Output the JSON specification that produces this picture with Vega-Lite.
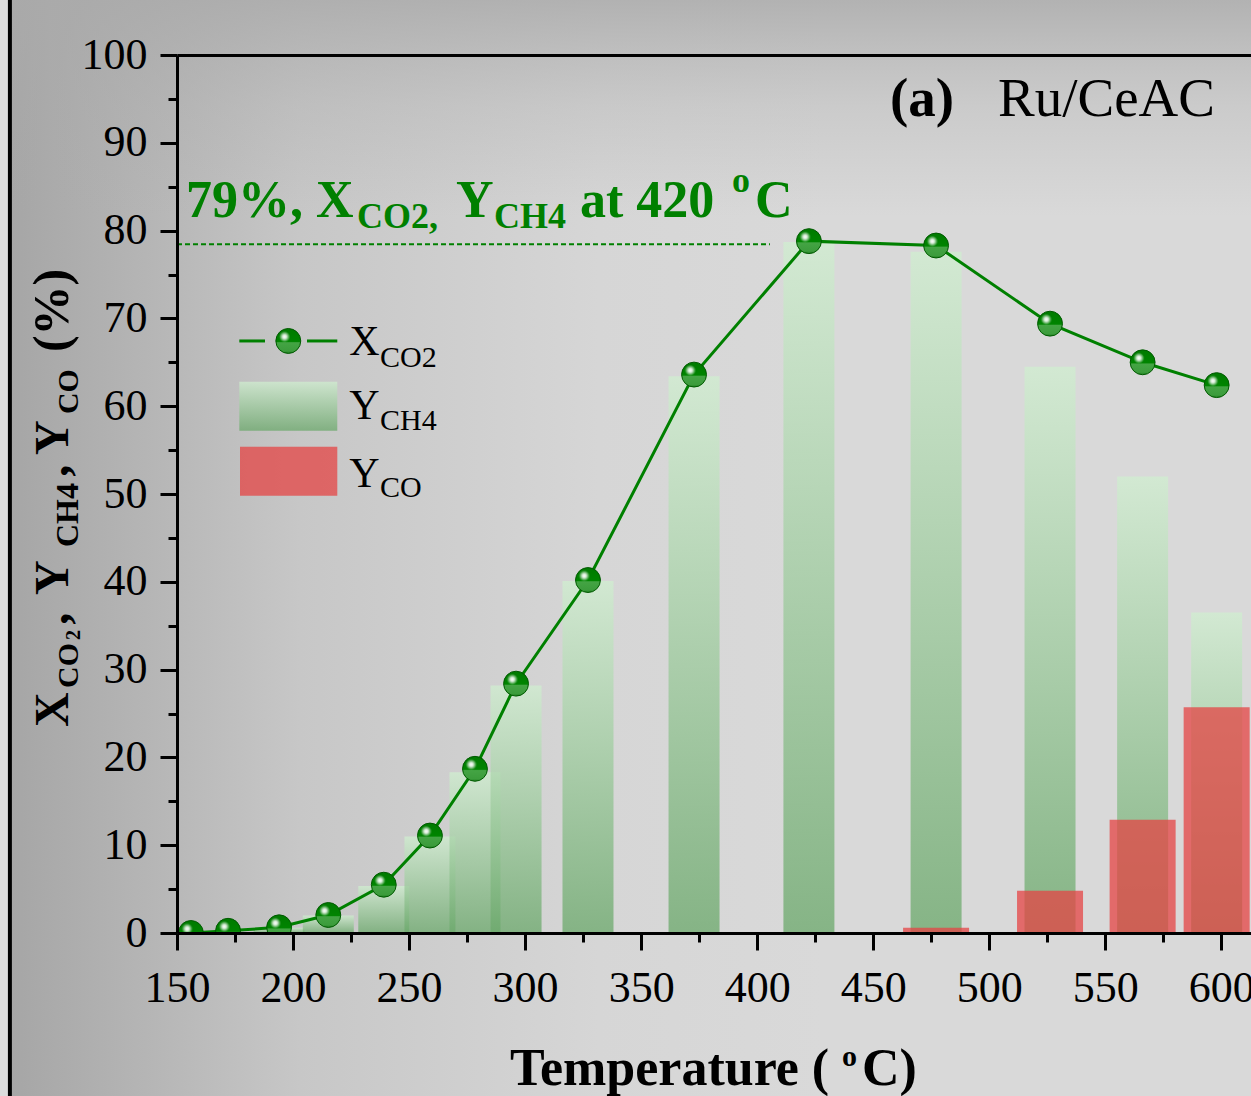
{
"$schema":"https://vega.github.io/schema/vega-lite/v6.json",
"autosize":{"type":"none"},
"padding":{"left":177,"top":55,"right":0,"bottom":163},
"width":1074,"height":878,
"background":"#dcdcdc",
"config":{"scale":{"continuousPadding":0},"view":{"stroke":null},"axis":{"domainColor":"black","tickColor":"black","labelColor":"black","labelFont":"Liberation Serif","labelFontSize":44,"domainWidth":3,"tickWidth":3,"grid":false,"title":null,"labelFlush":false,"labelOverlap":false},"text":{"font":"Liberation Serif","align":"left","baseline":"alphabetic"}},
"datasets":{"main":[
{"T":156.0,"X":0.0,"Ych4":0.0,"Yco":null},
{"T":172.0,"X":0.25,"Ych4":0.0,"Yco":null},
{"T":194.0,"X":0.65,"Ych4":0.6,"Yco":null},
{"T":215.2,"X":2.05,"Ych4":2.0,"Yco":null},
{"T":239.1,"X":5.5,"Ych4":5.35,"Yco":null},
{"T":259.0,"X":11.1,"Ych4":11.0,"Yco":null},
{"T":278.4,"X":18.7,"Ych4":18.3,"Yco":null},
{"T":296.1,"X":28.4,"Ych4":28.2,"Yco":null},
{"T":327.1,"X":40.2,"Ych4":40.1,"Yco":null},
{"T":372.8,"X":63.6,"Ych4":63.4,"Yco":null},
{"T":422.3,"X":78.8,"Ych4":78.7,"Yco":null},
{"T":477.1,"X":78.3,"Ych4":77.6,"Yco":0.6},
{"T":526.2,"X":69.4,"Ych4":64.5,"Yco":4.8},
{"T":566.1,"X":65.0,"Ych4":52.0,"Yco":12.9},
{"T":598.0,"X":62.4,"Ych4":36.5,"Yco":25.7}
]},
"resolve":{"axis":{"x":"independent","y":"independent"}},
"layer":[
{"data":{"values":[{}]},"mark":{"type":"rect","clip":false,"fill":{"gradient":"linear","x1":0,"y1":0,"x2":1,"y2":0,"stops":[{"offset":0,"color":"#a6a6a6"},{"offset":0.135,"color":"#b9b9b9"},{"offset":0.23,"color":"#c7c7c7"},{"offset":0.47,"color":"#d6d6d6"},{"offset":0.65,"color":"#d9d9d9"},{"offset":1,"color":"#d9d9d9"}]}},
 "encoding":{"x":{"datum":78.8,"type":"quantitative","scale":{"domain":[150,612.8],"nice":false,"zero":false,"padding":0},"axis":null},"x2":{"datum":617},"y":{"datum":-19,"type":"quantitative","scale":{"domain":[0,100],"nice":false,"zero":false},"axis":null},"y2":{"datum":106.8}}},
{"data":{"values":[{}]},"mark":{"type":"rect","clip":false,"fill":{"gradient":"linear","x1":0,"y1":0,"x2":0,"y2":1,"stops":[{"offset":0,"color":"rgba(170,170,170,0.85)"},{"offset":0.05,"color":"rgba(170,170,170,0.55)"},{"offset":0.1,"color":"rgba(170,170,170,0.3)"},{"offset":0.2,"color":"rgba(170,170,170,0)"},{"offset":1,"color":"rgba(170,170,170,0)"}]}},
 "encoding":{"x":{"datum":78.8,"type":"quantitative","scale":{"domain":[150,612.8],"nice":false,"zero":false,"padding":0},"axis":null},"x2":{"datum":617},"y":{"datum":-19,"type":"quantitative","scale":{"domain":[0,100],"nice":false,"zero":false},"axis":null},"y2":{"datum":106.8}}},
{"data":{"values":[{}]},"mark":{"type":"rule","clip":false,"color":"black","strokeWidth":4},
 "encoding":{"x":{"datum":78.0,"type":"quantitative","scale":{"domain":[150,612.8],"nice":false,"zero":false,"padding":0},"axis":null},"y":{"datum":-19,"type":"quantitative","scale":{"domain":[0,100],"nice":false,"zero":false},"axis":null},"y2":{"datum":107}}},
{"data":{"name":"main"},"mark":{"type":"bar","width":51,"clip":true,"fillOpacity":0.75,"fill":{"gradient":"linear","x1":0,"y1":0,"x2":0,"y2":1,"stops":[{"offset":0,"color":"#d0eed0"},{"offset":1,"color":"#6aa86a"}]}},
 "encoding":{"x":{"field":"T","type":"quantitative","scale":{"domain":[150,612.8],"nice":false,"zero":false,"padding":0},"axis":{"orient":"bottom","zindex":2,"values":[150,200,250,300,350,400,450,500,550,600],"tickSize":17,"labelPadding":16,"format":"d"}},
 "y":{"field":"Ych4","type":"quantitative","scale":{"domain":[0,100],"nice":false,"zero":false},"axis":{"orient":"left","zindex":2,"values":[0,10,20,30,40,50,60,70,80,90,100],"tickSize":17,"labelPadding":13,"format":"d"}}}},
{"data":{"name":"main"},"transform":[{"filter":"datum.Yco > 0"}],"mark":{"type":"bar","width":66,"clip":true,"fill":"#e44444","fillOpacity":0.75},
 "encoding":{"x":{"field":"T","type":"quantitative","scale":{"domain":[150,612.8],"nice":false,"zero":false,"padding":0},"axis":{"orient":"bottom","zindex":2,"values":[175,225,275,325,375,425,475,525,575],"tickSize":9,"labels":false,"domain":false}},
 "y":{"field":"Yco","type":"quantitative","scale":{"domain":[0,100],"nice":false,"zero":false},"axis":{"orient":"left","zindex":2,"values":[5,15,25,35,45,55,65,75,85,95],"tickSize":9,"labels":false,"domain":false}}}},
{"data":{"values":[{}]},"mark":{"type":"rule","color":"#008000","strokeWidth":2,"strokeDash":[5,3]},
 "encoding":{"x":{"datum":150,"type":"quantitative","scale":{"domain":[150,612.8],"nice":false,"zero":false,"padding":0},"axis":null},"x2":{"datum":405.5},"y":{"datum":78.45,"type":"quantitative","scale":{"domain":[0,100],"nice":false,"zero":false},"axis":null}}},
{"data":{"name":"main"},"mark":{"type":"line","color":"#008000","strokeWidth":3,"clip":true},
 "encoding":{"x":{"field":"T","type":"quantitative","scale":{"domain":[150,612.8],"nice":false,"zero":false,"padding":0},"axis":{"orient":"top","zindex":2,"ticks":false,"labels":false,"domain":true}},
 "y":{"field":"X","type":"quantitative","scale":{"domain":[0,100],"nice":false,"zero":false},"axis":null}}},
{"data":{"name":"main"},"mark":{"type":"circle","size":620,"clip":true,"opacity":1,"stroke":"#005a00","strokeWidth":1,"fill":{"gradient":"linear","x1":0,"y1":0,"x2":0,"y2":1,"stops":[{"offset":0,"color":"#007a00"},{"offset":0.52,"color":"#008400"},{"offset":0.57,"color":"#44a444"},{"offset":0.9,"color":"#3c9c3c"},{"offset":1,"color":"#1f7f1f"}]}},
 "encoding":{"x":{"field":"T","type":"quantitative","scale":{"domain":[150,612.8],"nice":false,"zero":false,"padding":0},"axis":null},"y":{"field":"X","type":"quantitative","scale":{"domain":[0,100],"nice":false,"zero":false},"axis":null}}},
{"data":{"name":"main"},"mark":{"type":"circle","size":620,"clip":true,"opacity":1,"fill":{"gradient":"radial","x1":0.35,"y1":0.33,"r1":0,"x2":0.35,"y2":0.33,"r2":0.22,"stops":[{"offset":0,"color":"rgba(255,255,255,1)"},{"offset":0.35,"color":"rgba(255,255,255,0.85)"},{"offset":1,"color":"rgba(255,255,255,0)"}]}},
 "encoding":{"x":{"field":"T","type":"quantitative","scale":{"domain":[150,612.8],"nice":false,"zero":false,"padding":0},"axis":null},"y":{"field":"X","type":"quantitative","scale":{"domain":[0,100],"nice":false,"zero":false},"axis":null}}},
{"data":{"values":[{}]},"mark":{"type":"rule","color":"#008000","strokeWidth":3},
 "encoding":{"x":{"datum":176.85,"type":"quantitative","scale":{"domain":[150,612.8],"nice":false,"zero":false,"padding":0},"axis":null},"x2":{"datum":187.92},"y":{"datum":67.43,"type":"quantitative","scale":{"domain":[0,100],"nice":false,"zero":false},"axis":null}}},
{"data":{"values":[{}]},"mark":{"type":"rule","color":"#008000","strokeWidth":3},
 "encoding":{"x":{"datum":206.02,"type":"quantitative","scale":{"domain":[150,612.8],"nice":false,"zero":false,"padding":0},"axis":null},"x2":{"datum":219.07},"y":{"datum":67.43,"type":"quantitative","scale":{"domain":[0,100],"nice":false,"zero":false},"axis":null}}},
{"data":{"values":[{}]},"mark":{"type":"circle","size":620,"opacity":1,"stroke":"#005a00","strokeWidth":1,"fill":{"gradient":"linear","x1":0,"y1":0,"x2":0,"y2":1,"stops":[{"offset":0,"color":"#007a00"},{"offset":0.52,"color":"#008400"},{"offset":0.57,"color":"#44a444"},{"offset":0.9,"color":"#3c9c3c"},{"offset":1,"color":"#1f7f1f"}]}},
 "encoding":{"x":{"datum":197.96,"type":"quantitative","scale":{"domain":[150,612.8],"nice":false,"zero":false,"padding":0},"axis":null},"y":{"datum":67.43,"type":"quantitative","scale":{"domain":[0,100],"nice":false,"zero":false},"axis":null}}},
{"data":{"values":[{}]},"mark":{"type":"circle","size":620,"opacity":1,"fill":{"gradient":"radial","x1":0.35,"y1":0.33,"r1":0,"x2":0.35,"y2":0.33,"r2":0.22,"stops":[{"offset":0,"color":"rgba(255,255,255,1)"},{"offset":0.35,"color":"rgba(255,255,255,0.85)"},{"offset":1,"color":"rgba(255,255,255,0)"}]}},
 "encoding":{"x":{"datum":197.96,"type":"quantitative","scale":{"domain":[150,612.8],"nice":false,"zero":false,"padding":0},"axis":null},"y":{"datum":67.43,"type":"quantitative","scale":{"domain":[0,100],"nice":false,"zero":false},"axis":null}}},
{"data":{"values":[{}]},"mark":{"type":"rect","fillOpacity":0.75,"fill":{"gradient":"linear","x1":0,"y1":0,"x2":0,"y2":1,"stops":[{"offset":0,"color":"#d0eed0"},{"offset":1,"color":"#6aa86a"}]}},
 "encoding":{"x":{"datum":176.85,"type":"quantitative","scale":{"domain":[150,612.8],"nice":false,"zero":false,"padding":0},"axis":null},"x2":{"datum":219.07},"y":{"datum":57.21,"type":"quantitative","scale":{"domain":[0,100],"nice":false,"zero":false},"axis":null},"y2":{"datum":62.79}}},
{"data":{"values":[{}]},"mark":{"type":"rect","fill":"#e44444","fillOpacity":0.75},
 "encoding":{"x":{"datum":177.15,"type":"quantitative","scale":{"domain":[150,612.8],"nice":false,"zero":false,"padding":0},"axis":null},"x2":{"datum":219.07},"y":{"datum":49.81,"type":"quantitative","scale":{"domain":[0,100],"nice":false,"zero":false},"axis":null},"y2":{"datum":55.39}}},
{"data":{"values":[{}]},"mark":{"type":"text","text":"X","fontSize":42,"color":"black"},"encoding":{"x":{"datum":224.25,"type":"quantitative","scale":{"domain":[150,612.8],"nice":false,"zero":false,"padding":0},"axis":null},"y":{"datum":65.83,"type":"quantitative","scale":{"domain":[0,100],"nice":false,"zero":false},"axis":null}}},
{"data":{"values":[{}]},"mark":{"type":"text","text":"CO2","fontSize":30,"color":"black"},"encoding":{"x":{"datum":237.47,"type":"quantitative","scale":{"domain":[150,612.8],"nice":false,"zero":false,"padding":0},"axis":null},"y":{"datum":64.5,"type":"quantitative","scale":{"domain":[0,100],"nice":false,"zero":false},"axis":null}}},
{"data":{"values":[{}]},"mark":{"type":"text","text":"Y","fontSize":42,"color":"black"},"encoding":{"x":{"datum":224.25,"type":"quantitative","scale":{"domain":[150,612.8],"nice":false,"zero":false,"padding":0},"axis":null},"y":{"datum":58.5,"type":"quantitative","scale":{"domain":[0,100],"nice":false,"zero":false},"axis":null}}},
{"data":{"values":[{}]},"mark":{"type":"text","text":"CH4","fontSize":30,"color":"black"},"encoding":{"x":{"datum":237.47,"type":"quantitative","scale":{"domain":[150,612.8],"nice":false,"zero":false,"padding":0},"axis":null},"y":{"datum":57.29,"type":"quantitative","scale":{"domain":[0,100],"nice":false,"zero":false},"axis":null}}},
{"data":{"values":[{}]},"mark":{"type":"text","text":"Y","fontSize":42,"color":"black"},"encoding":{"x":{"datum":224.25,"type":"quantitative","scale":{"domain":[150,612.8],"nice":false,"zero":false,"padding":0},"axis":null},"y":{"datum":50.8,"type":"quantitative","scale":{"domain":[0,100],"nice":false,"zero":false},"axis":null}}},
{"data":{"values":[{}]},"mark":{"type":"text","text":"CO","fontSize":30,"color":"black"},"encoding":{"x":{"datum":237.47,"type":"quantitative","scale":{"domain":[150,612.8],"nice":false,"zero":false,"padding":0},"axis":null},"y":{"datum":49.69,"type":"quantitative","scale":{"domain":[0,100],"nice":false,"zero":false},"axis":null}}},
{"data":{"values":[{}]},"mark":{"type":"text","text":"79%, X","fontSize":52,"fontWeight":"bold","color":"#008000"},"encoding":{"x":{"datum":153.88,"type":"quantitative","scale":{"domain":[150,612.8],"nice":false,"zero":false,"padding":0},"axis":null},"y":{"datum":81.6,"type":"quantitative","scale":{"domain":[0,100],"nice":false,"zero":false},"axis":null}}},
{"data":{"values":[{}]},"mark":{"type":"text","text":"CO2,","fontSize":36,"fontWeight":"bold","color":"#008000"},"encoding":{"x":{"datum":227.56,"type":"quantitative","scale":{"domain":[150,612.8],"nice":false,"zero":false,"padding":0},"axis":null},"y":{"datum":80.25,"type":"quantitative","scale":{"domain":[0,100],"nice":false,"zero":false},"axis":null}}},
{"data":{"values":[{}]},"mark":{"type":"text","text":"Y","fontSize":52,"fontWeight":"bold","color":"#008000"},"encoding":{"x":{"datum":270.22,"type":"quantitative","scale":{"domain":[150,612.8],"nice":false,"zero":false,"padding":0},"axis":null},"y":{"datum":81.6,"type":"quantitative","scale":{"domain":[0,100],"nice":false,"zero":false},"axis":null}}},
{"data":{"values":[{}]},"mark":{"type":"text","text":"CH4","fontSize":36,"fontWeight":"bold","color":"#008000"},"encoding":{"x":{"datum":286.6,"type":"quantitative","scale":{"domain":[150,612.8],"nice":false,"zero":false,"padding":0},"axis":null},"y":{"datum":80.25,"type":"quantitative","scale":{"domain":[0,100],"nice":false,"zero":false},"axis":null}}},
{"data":{"values":[{}]},"mark":{"type":"text","text":"at 420","fontSize":52,"fontWeight":"bold","color":"#008000"},"encoding":{"x":{"datum":323.66,"type":"quantitative","scale":{"domain":[150,612.8],"nice":false,"zero":false,"padding":0},"axis":null},"y":{"datum":81.6,"type":"quantitative","scale":{"domain":[0,100],"nice":false,"zero":false},"axis":null}}},
{"data":{"values":[{}]},"mark":{"type":"text","text":"o","fontSize":36,"fontWeight":"bold","color":"#008000"},"encoding":{"x":{"datum":389.2,"type":"quantitative","scale":{"domain":[150,612.8],"nice":false,"zero":false,"padding":0},"axis":null},"y":{"datum":84.4,"type":"quantitative","scale":{"domain":[0,100],"nice":false,"zero":false},"axis":null}}},
{"data":{"values":[{}]},"mark":{"type":"text","text":"C","fontSize":52,"fontWeight":"bold","color":"#008000"},"encoding":{"x":{"datum":399.1,"type":"quantitative","scale":{"domain":[150,612.8],"nice":false,"zero":false,"padding":0},"axis":null},"y":{"datum":81.6,"type":"quantitative","scale":{"domain":[0,100],"nice":false,"zero":false},"axis":null}}},
{"data":{"values":[{}]},"mark":{"type":"text","text":"(a)","fontSize":55,"fontWeight":"bold","color":"black"},"encoding":{"x":{"datum":457.2,"type":"quantitative","scale":{"domain":[150,612.8],"nice":false,"zero":false,"padding":0},"axis":null},"y":{"datum":93.0,"type":"quantitative","scale":{"domain":[0,100],"nice":false,"zero":false},"axis":null}}},
{"data":{"values":[{}]},"mark":{"type":"text","text":"Ru/CeAC","fontSize":55,"color":"black"},"encoding":{"x":{"datum":503.8,"type":"quantitative","scale":{"domain":[150,612.8],"nice":false,"zero":false,"padding":0},"axis":null},"y":{"datum":93.0,"type":"quantitative","scale":{"domain":[0,100],"nice":false,"zero":false},"axis":null}}},
{"data":{"values":[{}]},"mark":{"type":"text","text":"Temperature (","fontSize":52,"fontWeight":"bold","color":"black","clip":false},"encoding":{"x":{"datum":293.5,"type":"quantitative","scale":{"domain":[150,612.8],"nice":false,"zero":false,"padding":0},"axis":null},"y":{"datum":-17.3,"type":"quantitative","scale":{"domain":[0,100],"nice":false,"zero":false},"axis":null}}},
{"data":{"values":[{}]},"mark":{"type":"text","text":"o","fontSize":30,"fontWeight":"bold","color":"black","clip":false},"encoding":{"x":{"datum":436.6,"type":"quantitative","scale":{"domain":[150,612.8],"nice":false,"zero":false,"padding":0},"axis":null},"y":{"datum":-15.2,"type":"quantitative","scale":{"domain":[0,100],"nice":false,"zero":false},"axis":null}}},
{"data":{"values":[{}]},"mark":{"type":"text","text":"C)","fontSize":52,"fontWeight":"bold","color":"black","clip":false},"encoding":{"x":{"datum":445.2,"type":"quantitative","scale":{"domain":[150,612.8],"nice":false,"zero":false,"padding":0},"axis":null},"y":{"datum":-17.3,"type":"quantitative","scale":{"domain":[0,100],"nice":false,"zero":false},"axis":null}}},
{"data":{"values":[{}]},"mark":{"type":"text","text":"X","angle":270,"fontSize":48,"fontWeight":"bold","color":"black"},"encoding":{"x":{"datum":103.03,"type":"quantitative","scale":{"domain":[150,612.8],"nice":false,"zero":false,"padding":0},"axis":null},"y":{"datum":23.46,"type":"quantitative","scale":{"domain":[0,100],"nice":false,"zero":false},"axis":null}}},
{"data":{"values":[{}]},"mark":{"type":"text","text":"CO","angle":270,"fontSize":30,"fontWeight":"bold","color":"black"},"encoding":{"x":{"datum":107.3,"type":"quantitative","scale":{"domain":[150,612.8],"nice":false,"zero":false,"padding":0},"axis":null},"y":{"datum":27.9,"type":"quantitative","scale":{"domain":[0,100],"nice":false,"zero":false},"axis":null}}},
{"data":{"values":[{}]},"mark":{"type":"text","text":"2","angle":270,"fontSize":20,"fontWeight":"bold","color":"black"},"encoding":{"x":{"datum":108.1,"type":"quantitative","scale":{"domain":[150,612.8],"nice":false,"zero":false,"padding":0},"axis":null},"y":{"datum":33.37,"type":"quantitative","scale":{"domain":[0,100],"nice":false,"zero":false},"axis":null}}},
{"data":{"values":[{}]},"mark":{"type":"text","text":",","angle":270,"fontSize":48,"fontWeight":"bold","color":"black"},"encoding":{"x":{"datum":103.03,"type":"quantitative","scale":{"domain":[150,612.8],"nice":false,"zero":false,"padding":0},"axis":null},"y":{"datum":35.1,"type":"quantitative","scale":{"domain":[0,100],"nice":false,"zero":false},"axis":null}}},
{"data":{"values":[{}]},"mark":{"type":"text","text":"Y","angle":270,"fontSize":48,"fontWeight":"bold","color":"black"},"encoding":{"x":{"datum":103.03,"type":"quantitative","scale":{"domain":[150,612.8],"nice":false,"zero":false,"padding":0},"axis":null},"y":{"datum":38.5,"type":"quantitative","scale":{"domain":[0,100],"nice":false,"zero":false},"axis":null}}},
{"data":{"values":[{}]},"mark":{"type":"text","text":"CH4","angle":270,"fontSize":32,"fontWeight":"bold","color":"black"},"encoding":{"x":{"datum":107.3,"type":"quantitative","scale":{"domain":[150,612.8],"nice":false,"zero":false,"padding":0},"axis":null},"y":{"datum":43.96,"type":"quantitative","scale":{"domain":[0,100],"nice":false,"zero":false},"axis":null}}},
{"data":{"values":[{}]},"mark":{"type":"text","text":",","angle":270,"fontSize":48,"fontWeight":"bold","color":"black"},"encoding":{"x":{"datum":103.03,"type":"quantitative","scale":{"domain":[150,612.8],"nice":false,"zero":false,"padding":0},"axis":null},"y":{"datum":51.97,"type":"quantitative","scale":{"domain":[0,100],"nice":false,"zero":false},"axis":null}}},
{"data":{"values":[{}]},"mark":{"type":"text","text":"Y","angle":270,"fontSize":48,"fontWeight":"bold","color":"black"},"encoding":{"x":{"datum":103.03,"type":"quantitative","scale":{"domain":[150,612.8],"nice":false,"zero":false,"padding":0},"axis":null},"y":{"datum":54.44,"type":"quantitative","scale":{"domain":[0,100],"nice":false,"zero":false},"axis":null}}},
{"data":{"values":[{}]},"mark":{"type":"text","text":"CO","angle":270,"fontSize":30,"fontWeight":"bold","color":"black"},"encoding":{"x":{"datum":107.3,"type":"quantitative","scale":{"domain":[150,612.8],"nice":false,"zero":false,"padding":0},"axis":null},"y":{"datum":59.1,"type":"quantitative","scale":{"domain":[0,100],"nice":false,"zero":false},"axis":null}}},
{"data":{"values":[{}]},"mark":{"type":"text","text":"(%)","angle":270,"fontSize":50,"fontWeight":"bold","color":"black"},"encoding":{"x":{"datum":103.03,"type":"quantitative","scale":{"domain":[150,612.8],"nice":false,"zero":false,"padding":0},"axis":null},"y":{"datum":66.17,"type":"quantitative","scale":{"domain":[0,100],"nice":false,"zero":false},"axis":null}}}
]
}
